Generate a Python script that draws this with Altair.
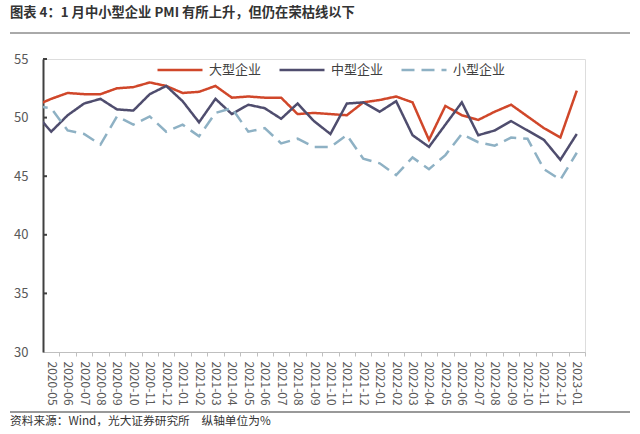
import altair as alt
import pandas as pd

# Monthly PMI by enterprise size, 2020-04 .. 2023-01 (the first month sits just outside the axis)
months = [
    "2020-04", "2020-05", "2020-06", "2020-07", "2020-08", "2020-09", "2020-10", "2020-11", "2020-12",
    "2021-01", "2021-02", "2021-03", "2021-04", "2021-05", "2021-06", "2021-07", "2021-08",
    "2021-09", "2021-10", "2021-11", "2021-12",
    "2022-01", "2022-02", "2022-03", "2022-04", "2022-05", "2022-06", "2022-07", "2022-08",
    "2022-09", "2022-10", "2022-11", "2022-12",
    "2023-01",
]
large = [51.0, 51.6, 52.1, 52.0, 52.0, 52.5, 52.6, 53.0, 52.7,
         52.1, 52.2, 52.7, 51.7, 51.8, 51.7, 51.7, 50.3, 50.4, 50.3, 50.2, 51.3,
         51.5, 51.8, 51.3, 48.1, 51.0, 50.2, 49.8, 50.5, 51.1, 50.1, 49.1, 48.3,
         52.3]
medium = [50.4, 48.8, 50.2, 51.2, 51.6, 50.7, 50.6, 52.0, 52.7,
          51.4, 49.6, 51.6, 50.3, 51.1, 50.8, 49.9, 51.2, 49.7, 48.6, 51.2, 51.3,
          50.5, 51.4, 48.5, 47.5, 49.4, 51.3, 48.5, 48.9, 49.7, 48.9, 48.1, 46.4,
          48.6]
small = [51.0, 50.8, 48.9, 48.6, 47.7, 50.1, 49.4, 50.1, 48.8,
         49.4, 48.4, 50.4, 50.8, 48.8, 49.1, 47.8, 48.2, 47.5, 47.5, 48.5, 46.5,
         46.1, 45.1, 46.6, 45.6, 46.8, 48.6, 47.9, 47.6, 48.3, 48.2, 45.6, 44.7,
         47.0]

series_names = ["大型企业", "中型企业", "小型企业"]
series_colors = ["#D0472A", "#4F4D6E", "#8EB1C4"]
series_dash = [[1, 0], [1, 0], [13, 7]]
y_ticks = [35, 40, 45, 50, 55]

title_text = "图表 4：1 月中小型企业 PMI 有所上升，但仍在荣枯线以下"
source_text = "资料来源：Wind，光大证券研究所　纵轴单位为%"

W, H = 542, 293
shown = months[1:]
band = W / len(shown)

rows = []
for name, vals in zip(series_names, [large, medium, small]):
    for i, (m, v) in enumerate(zip(months, vals)):
        rows.append({"idx": i - 1, "month": m, "series": name, "value": v})
df = pd.DataFrame(rows)

font = "Noto Sans CJK SC"
label_js = "[" + ",".join(f"'{m}'" for m in shown) + "]"

x_scale = alt.Scale(domain=[-0.5, len(shown) - 0.5], nice=False, zero=False)
y_scale = alt.Scale(domain=[30, 55], nice=False, zero=False)

lines = alt.Chart(df).mark_line(strokeWidth=2.5, clip=True).encode(
    x=alt.X("idx:Q", scale=x_scale, title=None,
            axis=alt.Axis(values=[i + 0.5 for i in range(len(shown))],
                          labelExpr=f"{label_js}[floor(datum.value)]",
                          labelOffset=-band / 2, labelAngle=90, labelFontSize=12,
                          labelColor="#595959", labelFont=font, labelPadding=5,
                          tickSize=4, tickColor="#BFBFBF", domainColor="#BFBFBF",
                          domainWidth=1, grid=False, labelOverlap=False,
                          labelBound=False, labelFlush=False)),
    y=alt.Y("value:Q", scale=y_scale, title=None,
            axis=alt.Axis(values=[30] + y_ticks, tickSize=0, labelPadding=15,
                          labelFontSize=13, labelColor="#595959", labelFont=font,
                          domainColor="#404040", domainWidth=2, grid=False)),
    color=alt.Color("series:N",
                    scale=alt.Scale(domain=series_names, range=series_colors),
                    legend=alt.Legend(title=None, orient="none", legendX=113, legendY=-13,
                                      direction="horizontal", symbolType="stroke",
                                      symbolSize=2025, symbolStrokeWidth=2.5,
                                      labelFontSize=13, labelColor="#404040",
                                      labelFont=font, columnPadding=12, labelOffset=5)),
    strokeDash=alt.StrokeDash("series:N",
                              scale=alt.Scale(domain=series_names, range=series_dash),
                              legend=None),
    detail="series:N",
)

# inward tick marks on the left axis
ytick_df = pd.DataFrame({"v": y_ticks})
yticks = alt.Chart(ytick_df).mark_rule(color="#404040", strokeWidth=2).encode(
    y=alt.Y("v:Q", scale=y_scale),
    x=alt.value(0),
    x2=alt.value(4),
)

one = pd.DataFrame({"k": [0]})
title = alt.Chart(one).mark_text(align="left", baseline="middle", fontSize=13.3,
                                 fontWeight="bold", font=font, color="#333333",
                                 text=title_text).encode(
    x=alt.value(-33), y=alt.value(-46))
title_rule = alt.Chart(one).mark_rule(color="#555555", strokeWidth=1).encode(
    x=alt.value(-33), x2=alt.value(587), y=alt.value(-26))
source_rule = alt.Chart(one).mark_rule(color="#777777", strokeWidth=1.5).encode(
    x=alt.value(-33), x2=alt.value(587), y=alt.value(H + 60))
source = alt.Chart(one).mark_text(align="left", baseline="middle", fontSize=11.7,
                                  font=font, color="#333333",
                                  text=source_text).encode(
    x=alt.value(-33), y=alt.value(H + 69))

chart = alt.layer(lines, yticks, title, title_rule, source_rule, source).properties(
    width=W, height=H,
    padding={"left": 43, "top": 59, "right": 55, "bottom": 82},
    autosize=alt.AutoSizeParams(type="none"),
).configure_view(stroke=None).configure(background="white")

chart.save("out.html", embed_options={"renderer": "svg", "actions": False})
